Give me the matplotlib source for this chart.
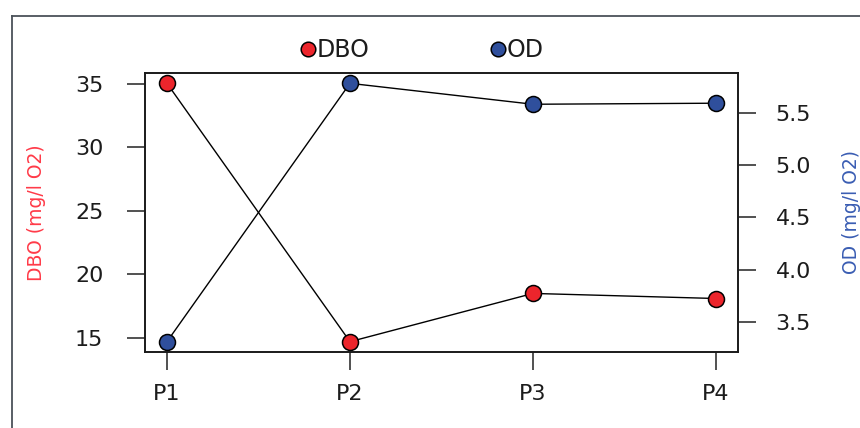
import matplotlib
matplotlib.use("Agg")
import matplotlib.pyplot as plt
from matplotlib.lines import Line2D

plt.rcParams["font.family"] = ["DejaVu Sans"]

# Monitoring points and measured values
points = ["P1", "P2", "P3", "P4"]
dbo = [35.05, 14.7, 18.5, 18.1]      # mg/l O2
od = [3.31, 5.78, 5.58, 5.59]        # mg/l O2

dbo_ticks = [15, 20, 25, 30, 35]
od_ticks = [3.5, 4.0, 4.5, 5.0, 5.5]

red = "#EC252C"
blue = "#2F4F9C"
red_label = "#FF3A48"
blue_label = "#3A5DB3"
ink = "#1c1c1c"
box = "#1a1a1a"

fig = plt.figure(figsize=(8.6, 4.28), dpi=100)
W, H = 860, 428

# outer frame (left and top edges)
frame_kw = dict(color="#4b5259", lw=1.3, transform=fig.transFigure)
fig.add_artist(Line2D([12 / W, 12 / W], [0, 1 - 16 / H], **frame_kw))
fig.add_artist(Line2D([12 / W, 1], [1 - 16 / H, 1 - 16 / H], **frame_kw))

left, right, top, bottom = 145, 738, 73, 352
ax = fig.add_axes([left / W, 1 - bottom / H, (right - left) / W, (bottom - top) / H])
ax2 = ax.twinx()

x = list(range(1, len(points) + 1))
mk = dict(marker="o", markersize=11.5, markeredgecolor="black", markeredgewidth=1.1,
          color="black", lw=1.0)
ax.plot(x, dbo, markerfacecolor=red, **mk)
ax2.plot(x, od, markerfacecolor=blue, **mk)

for a in (ax, ax2):
    a.margins(x=0.04, y=0.04)
    for s in a.spines.values():
        s.set_linewidth(1.2)
        s.set_color(box)

ax.set_xticks(x)
ax.set_xticklabels(points)
ax.set_yticks(dbo_ticks)
ax.set_yticklabels([str(v) for v in dbo_ticks])
ax2.set_yticks(od_ticks)
ax2.set_yticklabels([f"{v:.1f}" for v in od_ticks])

tick_kw = dict(length=13, width=1.2, color="#333333", labelcolor=ink, labelsize=16)
ax.tick_params(axis="x", pad=10, **tick_kw)
ax.tick_params(axis="y", pad=17, **tick_kw)
ax2.tick_params(axis="y", pad=14, **tick_kw)

ax.set_ylabel("DBO (mg/l O2)", color=red_label, fontsize=13.5, labelpad=0)
ax2.set_ylabel("OD (mg/l O2)", color=blue_label, fontsize=13.5, labelpad=0)
ax.yaxis.set_label_coords(-(left - 46) / (right - left), 0.5)
ax2.yaxis.set_label_coords((842 - left) / (right - left), 0.5)

handles = [
    Line2D([], [], ls="none", marker="o", markersize=10.5, markerfacecolor=red,
           markeredgecolor="black", markeredgewidth=1.1),
    Line2D([], [], ls="none", marker="o", markersize=10.5, markerfacecolor=blue,
           markeredgecolor="black", markeredgewidth=1.1),
]
fig.legend(handles, ["DBO", "OD"], loc="center", bbox_to_anchor=(423 / W, 1 - 50 / H),
           ncol=2, frameon=False, fontsize=17, handlelength=0.5, handletextpad=0.1,
           columnspacing=5.2, borderpad=0, labelcolor=ink)

fig.savefig("out.png", dpi=100)
